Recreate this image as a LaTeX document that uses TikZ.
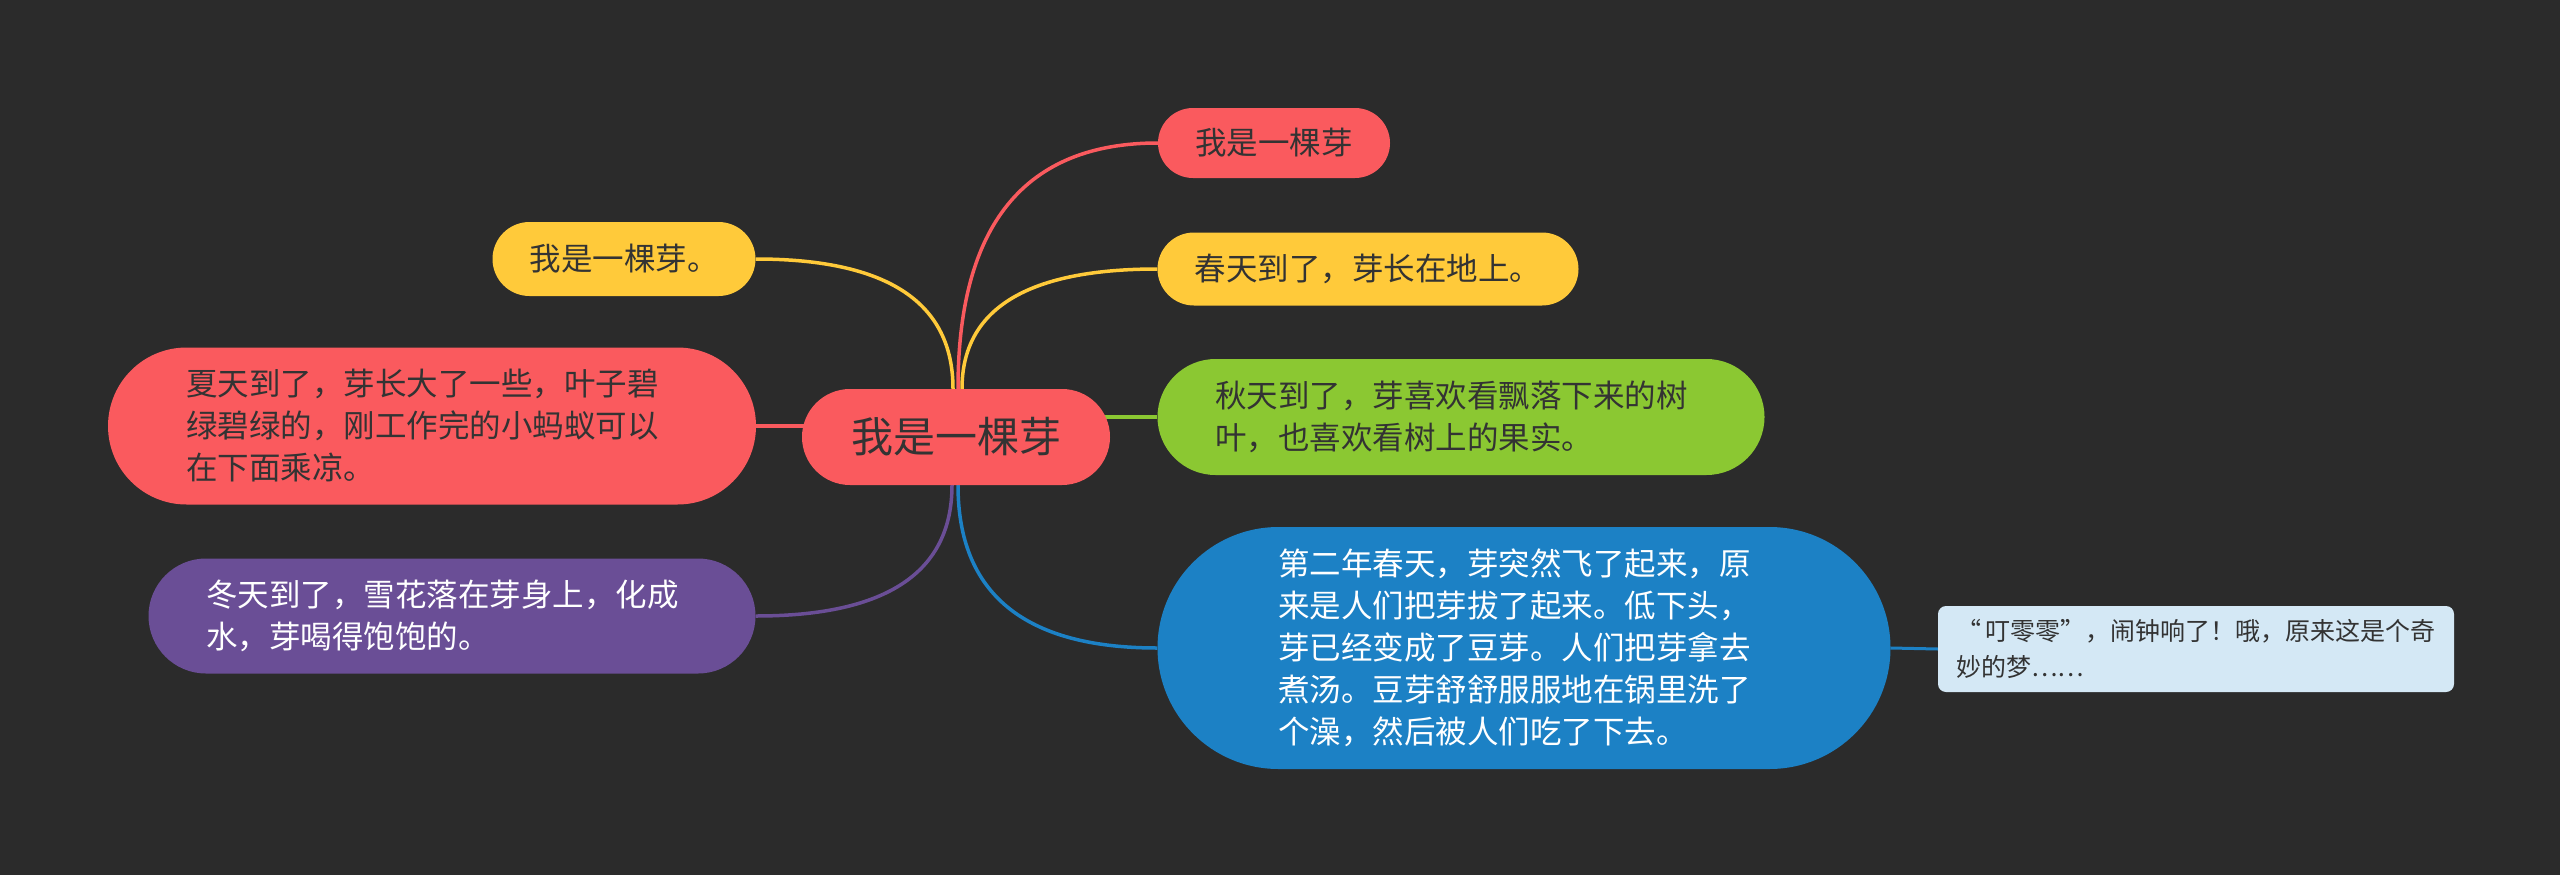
\documentclass[tikz,border=0pt]{standalone}
\usepackage{fontspec}
\setmainfont{Noto Sans CJK SC}
\usetikzlibrary{backgrounds,calc}

\definecolor{bgcol}{HTML}{2B2B2B}
\definecolor{redc}{HTML}{FA5A5E}
\definecolor{yelc}{HTML}{FFCA3A}
\definecolor{grnc}{HTML}{8BC832}
\definecolor{bluc}{HTML}{1C81C5}
\definecolor{purc}{HTML}{6A4E96}
\definecolor{lbluc}{HTML}{D4E8F5}
\definecolor{txtdark}{HTML}{333333}

\begin{document}
\begin{tikzpicture}[x=1pt,y=-1pt,
  topic/.style={inner sep=0pt, align=left, text=txtdark,
    font=\fontsize{31.5}{42}\selectfont},
  para/.style={text width=492pt},
  link/.style={line width=3.5pt},
  bend link/.style={to path={.. controls ($(\tikztostart)!0.667!(\tikztostart |- \tikztotarget)$)
    and ($(\tikztotarget)!0.667!(\tikztostart |- \tikztotarget)$) .. (\tikztotarget)}}]
\useasboundingbox (0,0) rectangle (2560,875);
% centre
\node[topic, fill=redc, minimum width=308pt, minimum height=96pt, rounded corners=48pt,
  font=\fontsize{42}{50}\selectfont] (ctr) at (956,437){我是一棵芽};
\coordinate (ctrtl) at ([xshift=-3pt]ctr.north);
\coordinate (ctrtm) at ([xshift=2pt]ctr.north);
\coordinate (ctrtr) at ([xshift=6pt]ctr.north);
\coordinate (ctrbl) at ([xshift=-4pt]ctr.south);
\coordinate (ctrbr) at ([xshift=2pt]ctr.south);
% right side
\node[topic, fill=redc, minimum width=232pt, minimum height=70pt, rounded corners=35pt] (rtop) at (1274,143){我是一棵芽};
\node[topic, fill=yelc, minimum width=421pt, minimum height=73pt, rounded corners=36.5pt] (spring) at (1368,269){春天到了，芽长在地上。};
\node[topic, para, fill=grnc, minimum width=607pt, minimum height=116pt, rounded corners=58pt] (autumn) at (1461,417){秋天到了，芽喜欢看飘落下来的树\\叶，也喜欢看树上的果实。};
\node[topic, para, fill=bluc, text=white, minimum width=733pt, minimum height=242pt, rounded corners=121pt] (nextyr) at (1524,648){第二年春天，芽突然飞了起来，原\\来是人们把芽拔了起来。低下头，\\芽已经变成了豆芽。人们把芽拿去\\煮汤。豆芽舒舒服服地在锅里洗了\\个澡，然后被人们吃了下去。};
\node[topic, fill=lbluc, text width=480pt, minimum width=516pt, minimum height=86pt, rounded corners=8pt,
  font=\fontsize{25}{36}\selectfont] (dream) at (2196,649){“\,叮零零”，闹钟响了！哦，原来这是个奇\\妙的梦……};
% left side
\node[topic, fill=yelc, minimum width=263pt, minimum height=74pt, rounded corners=37pt] (ltop) at (624,259){我是一棵芽。};
\node[topic, para, fill=redc, minimum width=648pt, minimum height=157pt, rounded corners=78.5pt] (summer) at (432,426){夏天到了，芽长大了一些，叶子碧\\绿碧绿的，刚工作完的小蚂蚁可以\\在下面乘凉。};
\node[topic, para, fill=purc, text=white, minimum width=607pt, minimum height=115pt, rounded corners=57.5pt] (winter) at (452,616){冬天到了，雪花落在芽身上，化成\\水，芽喝得饱饱的。};

\begin{scope}[on background layer]
\fill[bgcol] (0,0) rectangle (2560,875);
\draw[link, redc] (ctrtm) to[bend link] (rtop.west);
\draw[link, yelc] (ctrtr) to[bend link] (spring.west);
\draw[link, yelc] (ctrtl) to[bend link] (ltop.east);
\draw[link, purc] (ctrbl) to[bend link] (winter.east);
\draw[link, bluc] (ctrbr) to[bend link] (nextyr.west);
\draw[link, grnc] (autumn.west) -- ([xshift=-10pt]autumn.west -| ctr.east);
\draw[link, redc] (summer.east) -- ([xshift=10pt]summer.east -| ctr.west);
\draw[line width=3pt, bluc] (nextyr.east) -- (dream.west);
\end{scope}
\end{tikzpicture}
\end{document}
